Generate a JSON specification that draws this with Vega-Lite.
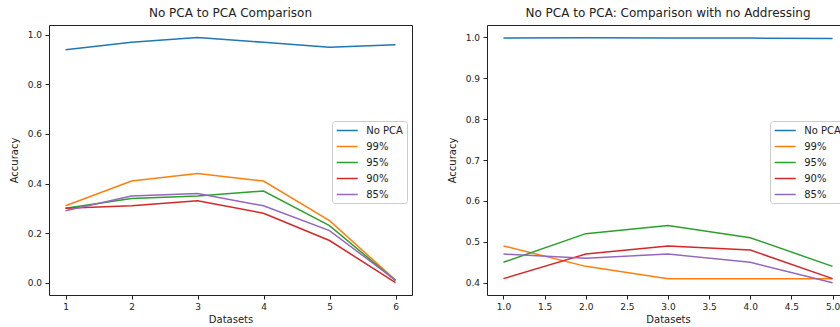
{
  "$schema": "https://vega.github.io/schema/vega-lite/v6.json",
  "padding": {"left": 9, "top": 6, "right": 0, "bottom": 0},
  "background": "white",
  "spacing": 34,
  "config": {
    "font": "DejaVu Sans",
    "view": {"stroke": "#222", "strokeWidth": 1},
    "axis": {"domain": false, "grid": false, "tickColor": "#222", "tickSize": 4, "labelFontSize": 9, "labelColor": "#222", "labelPadding": 3.5, "titleFontSize": 10, "titleFontWeight": "normal", "titleColor": "#222"},
    "axisX": {"titlePadding": 3, "labelAngle": 0},
    "axisY": {"titlePadding": 7.5},
    "title": {"fontSize": 12, "fontWeight": "normal", "color": "#222", "offset": 5},
    "legend": {"orient": "none", "legendX": 283, "legendY": 96, "title": null, "symbolType": "M-2.1,0H2.1", "symbolSize": 100, "symbolStrokeWidth": 1.5, "labelFontSize": 10, "labelColor": "#222", "padding": 3.5, "rowPadding": 5, "symbolOffset": 5.7, "labelOffset": 13, "strokeColor": "#ccc", "fillColor": "rgba(255,255,255,0.8)", "cornerRadius": 3}
  },
  "datasets": {
    "left": [
      {"dataset": 1, "series": "No PCA", "accuracy": 0.94},
      {"dataset": 2, "series": "No PCA", "accuracy": 0.97},
      {"dataset": 3, "series": "No PCA", "accuracy": 0.99},
      {"dataset": 4, "series": "No PCA", "accuracy": 0.97},
      {"dataset": 5, "series": "No PCA", "accuracy": 0.95},
      {"dataset": 6, "series": "No PCA", "accuracy": 0.96},
      {"dataset": 1, "series": "99%", "accuracy": 0.31},
      {"dataset": 2, "series": "99%", "accuracy": 0.41},
      {"dataset": 3, "series": "99%", "accuracy": 0.44},
      {"dataset": 4, "series": "99%", "accuracy": 0.41},
      {"dataset": 5, "series": "99%", "accuracy": 0.25},
      {"dataset": 6, "series": "99%", "accuracy": 0.01},
      {"dataset": 1, "series": "95%", "accuracy": 0.30},
      {"dataset": 2, "series": "95%", "accuracy": 0.34},
      {"dataset": 3, "series": "95%", "accuracy": 0.35},
      {"dataset": 4, "series": "95%", "accuracy": 0.37},
      {"dataset": 5, "series": "95%", "accuracy": 0.23},
      {"dataset": 6, "series": "95%", "accuracy": 0.008},
      {"dataset": 1, "series": "90%", "accuracy": 0.30},
      {"dataset": 2, "series": "90%", "accuracy": 0.31},
      {"dataset": 3, "series": "90%", "accuracy": 0.33},
      {"dataset": 4, "series": "90%", "accuracy": 0.28},
      {"dataset": 5, "series": "90%", "accuracy": 0.17},
      {"dataset": 6, "series": "90%", "accuracy": 0.0},
      {"dataset": 1, "series": "85%", "accuracy": 0.29},
      {"dataset": 2, "series": "85%", "accuracy": 0.35},
      {"dataset": 3, "series": "85%", "accuracy": 0.36},
      {"dataset": 4, "series": "85%", "accuracy": 0.31},
      {"dataset": 5, "series": "85%", "accuracy": 0.21},
      {"dataset": 6, "series": "85%", "accuracy": 0.01}
    ],
    "right": [
      {"dataset": 1, "series": "No PCA", "accuracy": 0.998},
      {"dataset": 2, "series": "No PCA", "accuracy": 0.999},
      {"dataset": 3, "series": "No PCA", "accuracy": 0.998},
      {"dataset": 4, "series": "No PCA", "accuracy": 0.998},
      {"dataset": 5, "series": "No PCA", "accuracy": 0.997},
      {"dataset": 1, "series": "99%", "accuracy": 0.49},
      {"dataset": 2, "series": "99%", "accuracy": 0.44},
      {"dataset": 3, "series": "99%", "accuracy": 0.41},
      {"dataset": 4, "series": "99%", "accuracy": 0.41},
      {"dataset": 5, "series": "99%", "accuracy": 0.41},
      {"dataset": 1, "series": "95%", "accuracy": 0.45},
      {"dataset": 2, "series": "95%", "accuracy": 0.52},
      {"dataset": 3, "series": "95%", "accuracy": 0.54},
      {"dataset": 4, "series": "95%", "accuracy": 0.51},
      {"dataset": 5, "series": "95%", "accuracy": 0.44},
      {"dataset": 1, "series": "90%", "accuracy": 0.41},
      {"dataset": 2, "series": "90%", "accuracy": 0.47},
      {"dataset": 3, "series": "90%", "accuracy": 0.49},
      {"dataset": 4, "series": "90%", "accuracy": 0.48},
      {"dataset": 5, "series": "90%", "accuracy": 0.41},
      {"dataset": 1, "series": "85%", "accuracy": 0.47},
      {"dataset": 2, "series": "85%", "accuracy": 0.46},
      {"dataset": 3, "series": "85%", "accuracy": 0.47},
      {"dataset": 4, "series": "85%", "accuracy": 0.45},
      {"dataset": 5, "series": "85%", "accuracy": 0.40}
    ]
  },
  "resolve": {"scale": {"color": "independent"}, "legend": {"color": "independent"}},
  "hconcat": [
    {
      "width": 363,
      "height": 270,
      "title": "No PCA to PCA Comparison",
      "data": {"name": "left"},
      "mark": {"type": "line", "strokeWidth": 1.5, "clip": true},
      "encoding": {
        "x": {"field": "dataset", "type": "quantitative", "title": "Datasets", "scale": {"domain": [0.75, 6.25], "nice": false, "zero": false}, "axis": {"values": [1, 2, 3, 4, 5, 6], "format": "d"}},
        "y": {"field": "accuracy", "type": "quantitative", "title": "Accuracy", "scale": {"domain": [-0.05, 1.04], "nice": false, "zero": false}, "axis": {"values": [0, 0.2, 0.4, 0.6, 0.8, 1.0], "format": ".1f"}},
        "color": {"field": "series", "type": "nominal", "scale": {"domain": ["No PCA", "99%", "95%", "90%", "85%"], "range": ["#1f77b4", "#ff7f0e", "#2ca02c", "#d62728", "#9467bd"]}}
      }
    },
    {
      "width": 362,
      "height": 270,
      "title": "No PCA to PCA: Comparison with no Addressing",
      "data": {"name": "right"},
      "mark": {"type": "line", "strokeWidth": 1.5, "clip": true},
      "encoding": {
        "x": {"field": "dataset", "type": "quantitative", "title": "Datasets", "scale": {"domain": [0.8, 5.2], "nice": false, "zero": false}, "axis": {"values": [1, 1.5, 2, 2.5, 3, 3.5, 4, 4.5, 5], "format": ".1f"}},
        "y": {"field": "accuracy", "type": "quantitative", "title": "Accuracy", "scale": {"domain": [0.37, 1.03], "nice": false, "zero": false}, "axis": {"values": [0.4, 0.5, 0.6, 0.7, 0.8, 0.9, 1.0], "format": ".1f"}},
        "color": {"field": "series", "type": "nominal", "scale": {"domain": ["No PCA", "99%", "95%", "90%", "85%"], "range": ["#1f77b4", "#ff7f0e", "#2ca02c", "#d62728", "#9467bd"]}}
      }
    }
  ]
}
